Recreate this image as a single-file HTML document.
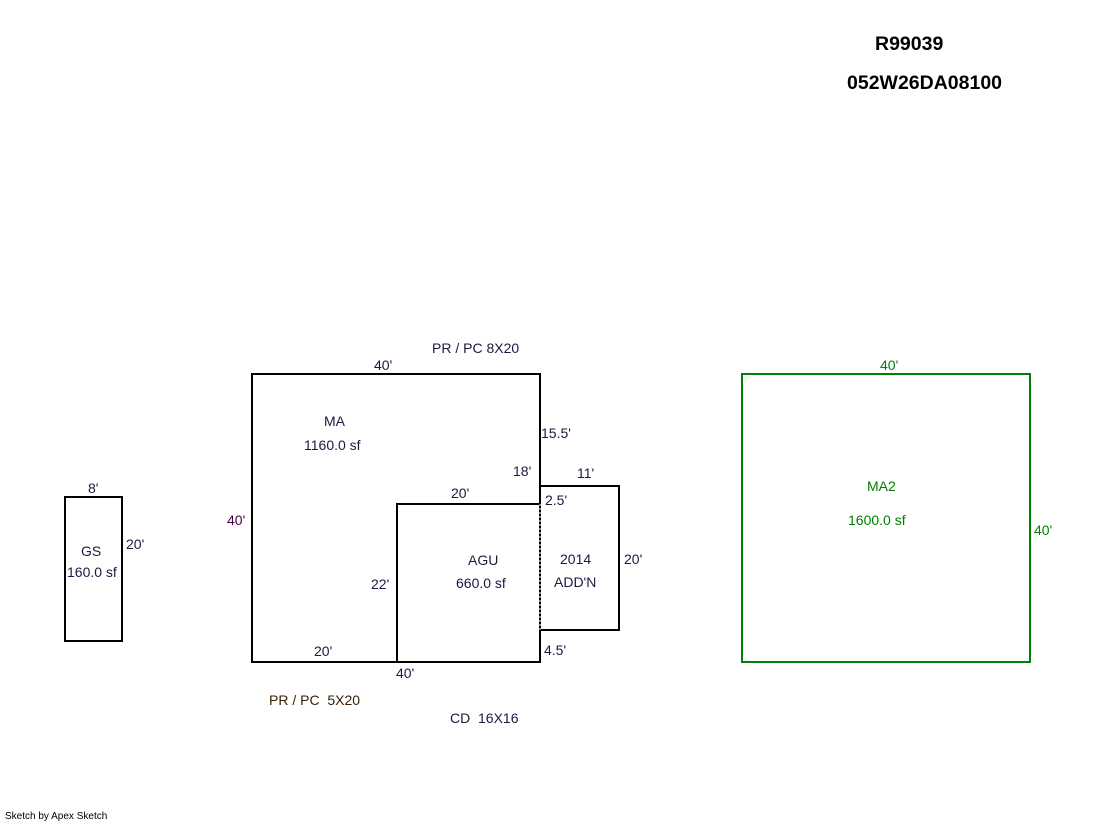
<!DOCTYPE html>
<html><head><meta charset="utf-8"><style>
html,body{margin:0;padding:0;background:#fff;}
svg{display:block;}
text{font-family:"Liberation Sans",Arial,sans-serif;font-size:14px;}
</style></head><body>
<svg width="1119" height="821" xmlns="http://www.w3.org/2000/svg">
<g fill="none" stroke="#000" stroke-width="2">
<rect x="252" y="374" width="288" height="288"/>
<rect x="397" y="504" width="143" height="158"/>
<polyline points="540,486 619,486 619,630 540,630"/>
<rect x="65" y="497" width="57" height="144"/>
</g>
<line x1="540" y1="504" x2="540" y2="630" stroke="#888" stroke-width="2" stroke-dasharray="2,2"/>
<rect x="742" y="374" width="288" height="288" fill="none" stroke="#008000" stroke-width="2"/>
<g fill="#000" font-weight="bold">
<text x="875" y="50" style="font-size:19.5px">R99039</text>
<text x="847" y="89" style="font-size:19.5px">052W26DA08100</text>
</g>
<g fill="#1a1a40">
<text x="432" y="353">PR / PC 8X20</text>
<text x="374" y="370">40'</text>
<text x="324" y="426">MA</text>
<text x="304" y="450">1160.0 sf</text>
<text x="541" y="438">15.5'</text>
<text x="513" y="476">18'</text>
<text x="577" y="478">11'</text>
<text x="451" y="498">20'</text>
<text x="545" y="505">2.5'</text>
<text x="468" y="565">AGU</text>
<text x="456" y="588">660.0 sf</text>
<text x="560" y="564">2014</text>
<text x="554" y="587">ADD'N</text>
<text x="624" y="564">20'</text>
<text x="371" y="589">22'</text>
<text x="544" y="655">4.5'</text>
<text x="314" y="656">20'</text>
<text x="396" y="678">40'</text>
<text x="450" y="723">CD&#160; 16X16</text>
<text x="88" y="493">8'</text>
<text x="81" y="556">GS</text>
<text x="67" y="577">160.0 sf</text>
<text x="126" y="549">20'</text>
</g>
<text x="227" y="525" fill="#4b0040">40'</text>
<text x="269" y="705" fill="#3a2000">PR / PC&#160; 5X20</text>
<g fill="#008000">
<text x="880" y="370">40'</text>
<text x="867" y="491">MA2</text>
<text x="848" y="525">1600.0 sf</text>
<text x="1034" y="535">40'</text>
</g>
<text x="5" y="819" fill="#000" style="font-size:10px">Sketch by Apex Sketch</text>
</svg>
</body></html>
